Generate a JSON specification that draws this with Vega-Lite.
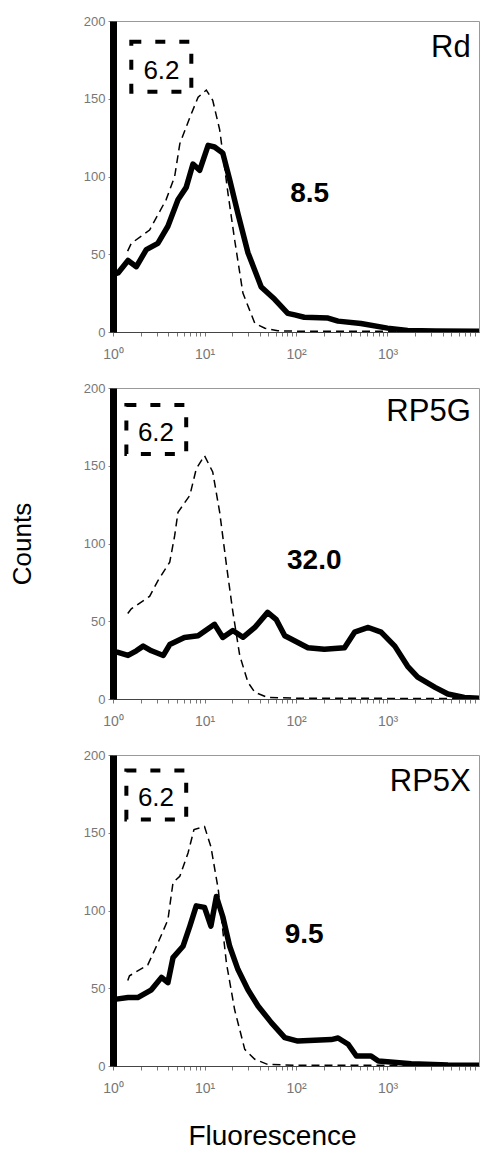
{
  "$schema": "https://vega.github.io/schema/vega-lite/v6.json",
  "padding": {"left": 8, "top": 14, "right": 0, "bottom": 0},
  "spacing": 19,
  "config": {"font": "Liberation Sans", "view": {"stroke": "#999", "strokeWidth": 1}},
  "datasets": {
    "curves": [
      {"p":"Rd","s":"ctrl","x":1.445,"y":52},{"p":"Rd","s":"ctrl","x":1.585,"y":57},{"p":"Rd","s":"ctrl","x":2.512,"y":65.6},{"p":"Rd","s":"ctrl","x":3.8,"y":85},{"p":"Rd","s":"ctrl","x":4.72,"y":100},{"p":"Rd","s":"ctrl","x":5.37,"y":121},{"p":"Rd","s":"ctrl","x":6.918,"y":138},{"p":"Rd","s":"ctrl","x":8.511,"y":151},{"p":"Rd","s":"ctrl","x":10.47,"y":155.6},{"p":"Rd","s":"ctrl","x":12.3,"y":149},{"p":"Rd","s":"ctrl","x":14.66,"y":130},{"p":"Rd","s":"ctrl","x":18.07,"y":89},{"p":"Rd","s":"ctrl","x":21.38,"y":59},{"p":"Rd","s":"ctrl","x":26.3,"y":25},{"p":"Rd","s":"ctrl","x":35.48,"y":5.6},{"p":"Rd","s":"ctrl","x":45.71,"y":2.4},{"p":"Rd","s":"ctrl","x":63.1,"y":0.8},{"p":"Rd","s":"ctrl","x":100,"y":0.5},{"p":"Rd","s":"ctrl","x":10000,"y":0.3},
      {"p":"Rd","s":"smp","x":1,"y":37},{"p":"Rd","s":"smp","x":1.135,"y":38},{"p":"Rd","s":"smp","x":1.459,"y":46},{"p":"Rd","s":"smp","x":1.8,"y":42},{"p":"Rd","s":"smp","x":2.312,"y":53},{"p":"Rd","s":"smp","x":3.09,"y":57},{"p":"Rd","s":"smp","x":3.981,"y":68},{"p":"Rd","s":"smp","x":5.129,"y":85},{"p":"Rd","s":"smp","x":6.31,"y":93},{"p":"Rd","s":"smp","x":7.482,"y":108},{"p":"Rd","s":"smp","x":8.85,"y":104},{"p":"Rd","s":"smp","x":10.96,"y":120},{"p":"Rd","s":"smp","x":12.88,"y":119},{"p":"Rd","s":"smp","x":15.85,"y":115},{"p":"Rd","s":"smp","x":18.84,"y":98},{"p":"Rd","s":"smp","x":23.23,"y":76},{"p":"Rd","s":"smp","x":29.85,"y":51},{"p":"Rd","s":"smp","x":41.69,"y":29},{"p":"Rd","s":"smp","x":58.48,"y":21},{"p":"Rd","s":"smp","x":81.28,"y":12},{"p":"Rd","s":"smp","x":96.8,"y":11},{"p":"Rd","s":"smp","x":123,"y":9.5},{"p":"Rd","s":"smp","x":223.9,"y":9},{"p":"Rd","s":"smp","x":288,"y":7},{"p":"Rd","s":"smp","x":512.9,"y":5.5},{"p":"Rd","s":"smp","x":1000,"y":2.5},{"p":"Rd","s":"smp","x":1660,"y":1},{"p":"Rd","s":"smp","x":3311,"y":0.6},{"p":"Rd","s":"smp","x":10000,"y":0.5},
      {"p":"RP5G","s":"ctrl","x":1.45,"y":55},{"p":"RP5G","s":"ctrl","x":1.585,"y":58},{"p":"RP5G","s":"ctrl","x":2.512,"y":66},{"p":"RP5G","s":"ctrl","x":3.09,"y":76},{"p":"RP5G","s":"ctrl","x":4.169,"y":88},{"p":"RP5G","s":"ctrl","x":4.72,"y":105},{"p":"RP5G","s":"ctrl","x":5.129,"y":120},{"p":"RP5G","s":"ctrl","x":6.918,"y":131},{"p":"RP5G","s":"ctrl","x":8.128,"y":148},{"p":"RP5G","s":"ctrl","x":10,"y":156.5},{"p":"RP5G","s":"ctrl","x":12.3,"y":146},{"p":"RP5G","s":"ctrl","x":14.66,"y":120},{"p":"RP5G","s":"ctrl","x":17.38,"y":86},{"p":"RP5G","s":"ctrl","x":20.42,"y":56},{"p":"RP5G","s":"ctrl","x":24.27,"y":28},{"p":"RP5G","s":"ctrl","x":29.85,"y":10.7},{"p":"RP5G","s":"ctrl","x":35.48,"y":4.3},{"p":"RP5G","s":"ctrl","x":48.98,"y":1},{"p":"RP5G","s":"ctrl","x":100,"y":0.5},{"p":"RP5G","s":"ctrl","x":10000,"y":0.3},
      {"p":"RP5G","s":"smp","x":1,"y":30},{"p":"RP5G","s":"smp","x":1.135,"y":30},{"p":"RP5G","s":"smp","x":1.459,"y":28},{"p":"RP5G","s":"smp","x":1.8,"y":31},{"p":"RP5G","s":"smp","x":2.138,"y":34},{"p":"RP5G","s":"smp","x":2.63,"y":31},{"p":"RP5G","s":"smp","x":3.548,"y":28},{"p":"RP5G","s":"smp","x":4.169,"y":35},{"p":"RP5G","s":"smp","x":6.026,"y":39.6},{"p":"RP5G","s":"smp","x":8.511,"y":40.7},{"p":"RP5G","s":"smp","x":12.88,"y":48},{"p":"RP5G","s":"smp","x":15.85,"y":39.6},{"p":"RP5G","s":"smp","x":20.42,"y":44},{"p":"RP5G","s":"smp","x":26.3,"y":39.7},{"p":"RP5G","s":"smp","x":35.48,"y":46},{"p":"RP5G","s":"smp","x":48.98,"y":55.7},{"p":"RP5G","s":"smp","x":60.95,"y":51},{"p":"RP5G","s":"smp","x":75.34,"y":40.7},{"p":"RP5G","s":"smp","x":81.28,"y":39.7},{"p":"RP5G","s":"smp","x":134.9,"y":33},{"p":"RP5G","s":"smp","x":204.2,"y":32},{"p":"RP5G","s":"smp","x":338.8,"y":33},{"p":"RP5G","s":"smp","x":436.5,"y":43},{"p":"RP5G","s":"smp","x":616.6,"y":46},{"p":"RP5G","s":"smp","x":851.1,"y":43},{"p":"RP5G","s":"smp","x":1202,"y":34},{"p":"RP5G","s":"smp","x":1660,"y":21},{"p":"RP5G","s":"smp","x":2138,"y":14},{"p":"RP5G","s":"smp","x":3311,"y":7.5},{"p":"RP5G","s":"smp","x":4571,"y":3.2},{"p":"RP5G","s":"smp","x":6918,"y":1},{"p":"RP5G","s":"smp","x":10000,"y":0.5},
      {"p":"RP5X","s":"ctrl","x":1.45,"y":55},{"p":"RP5X","s":"ctrl","x":1.514,"y":58},{"p":"RP5X","s":"ctrl","x":2.399,"y":65},{"p":"RP5X","s":"ctrl","x":3.09,"y":79},{"p":"RP5X","s":"ctrl","x":3.981,"y":94},{"p":"RP5X","s":"ctrl","x":4.529,"y":118},{"p":"RP5X","s":"ctrl","x":5.37,"y":122},{"p":"RP5X","s":"ctrl","x":6.607,"y":137},{"p":"RP5X","s":"ctrl","x":7.674,"y":152},{"p":"RP5X","s":"ctrl","x":10,"y":154},{"p":"RP5X","s":"ctrl","x":11.75,"y":141},{"p":"RP5X","s":"ctrl","x":14.13,"y":113.6},{"p":"RP5X","s":"ctrl","x":17.38,"y":66},{"p":"RP5X","s":"ctrl","x":21.38,"y":36},{"p":"RP5X","s":"ctrl","x":27.54,"y":10.7},{"p":"RP5X","s":"ctrl","x":35.48,"y":4.3},{"p":"RP5X","s":"ctrl","x":48.98,"y":1},{"p":"RP5X","s":"ctrl","x":100,"y":0.5},{"p":"RP5X","s":"ctrl","x":10000,"y":0.3},
      {"p":"RP5X","s":"smp","x":1,"y":43},{"p":"RP5X","s":"smp","x":1.086,"y":43},{"p":"RP5X","s":"smp","x":1.459,"y":44},{"p":"RP5X","s":"smp","x":1.862,"y":44},{"p":"RP5X","s":"smp","x":2.63,"y":49},{"p":"RP5X","s":"smp","x":3.388,"y":57},{"p":"RP5X","s":"smp","x":3.981,"y":53.6},{"p":"RP5X","s":"smp","x":4.529,"y":69.7},{"p":"RP5X","s":"smp","x":5.82,"y":77},{"p":"RP5X","s":"smp","x":6.918,"y":90},{"p":"RP5X","s":"smp","x":8.128,"y":103},{"p":"RP5X","s":"smp","x":10,"y":102},{"p":"RP5X","s":"smp","x":11.75,"y":90},{"p":"RP5X","s":"smp","x":13.49,"y":109},{"p":"RP5X","s":"smp","x":15.85,"y":96},{"p":"RP5X","s":"smp","x":18.84,"y":77},{"p":"RP5X","s":"smp","x":23.23,"y":62},{"p":"RP5X","s":"smp","x":29.85,"y":49},{"p":"RP5X","s":"smp","x":38.46,"y":38.6},{"p":"RP5X","s":"smp","x":53.7,"y":27.9},{"p":"RP5X","s":"smp","x":75.34,"y":18.2},{"p":"RP5X","s":"smp","x":104.7,"y":16},{"p":"RP5X","s":"smp","x":242.7,"y":17},{"p":"RP5X","s":"smp","x":288.4,"y":18},{"p":"RP5X","s":"smp","x":371.5,"y":14},{"p":"RP5X","s":"smp","x":457.1,"y":6.4},{"p":"RP5X","s":"smp","x":660.7,"y":6.4},{"p":"RP5X","s":"smp","x":794.3,"y":3.2},{"p":"RP5X","s":"smp","x":1820,"y":1.5},{"p":"RP5X","s":"smp","x":4571,"y":0.6},{"p":"RP5X","s":"smp","x":10000,"y":0.5}
    ],
    "ann": [
      {"p":"Rd","k":"box","x":1.585,"x2":7.178,"y":154.5,"y2":186.7},
      {"p":"Rd","k":"small","x":3.388,"y":163,"t":"6.2"},
      {"p":"Rd","k":"name","x":8128,"y":177,"t":"Rd"},
      {"p":"Rd","k":"num","x":141,"y":83.6,"t":"8.5"},
      {"p":"RP5G","k":"box","x":1.4,"x2":6.31,"y":157.6,"y2":189},
      {"p":"RP5G","k":"small","x":2.95,"y":166,"t":"6.2"},
      {"p":"RP5G","k":"name","x":8128,"y":179,"t":"RP5G"},
      {"p":"RP5G","k":"num","x":158.5,"y":83.6,"t":"32.0"},
      {"p":"RP5X","k":"box","x":1.4,"x2":6.31,"y":158.6,"y2":190},
      {"p":"RP5X","k":"small","x":2.95,"y":167,"t":"6.2"},
      {"p":"RP5X","k":"name","x":8128,"y":177,"t":"RP5X"},
      {"p":"RP5X","k":"num","x":123,"y":79,"t":"9.5"}
    ]
  },
  "vconcat": [
    {
      "width": 366, "height": 311,
      "layer": [
        {"data":{"name":"curves"},"transform":[{"filter":"datum.p=='Rd' && datum.s=='ctrl'"}],
         "mark":{"type":"line","color":"black","strokeWidth":1.5,"strokeDash":[8,5],"clip":true},
         "encoding":{
           "x":{"field":"x","type":"quantitative","scale":{"type":"log","domain":[1,10000],"nice":false},
                "axis":{"title":null,"values":[1,2,3,4,5,6,7,8,9,10,20,30,40,50,60,70,80,90,100,200,300,400,500,600,700,800,900,1000,2000,3000,4000,5000,6000,7000,8000,9000],
                        "labelExpr":"datum.value==1?'10⁰':datum.value==10?'10¹':datum.value==100?'10²':datum.value==1000?'10³':''",
                        "labelOverlap":false,"labelFlush":false,"tickSize":4,"tickColor":"#777","domainColor":"#444","labelColor":"#777","labelFontSize":14,"labelPadding":11,"grid":false}},
           "y":{"field":"y","type":"quantitative","scale":{"domain":[0,200],"nice":false},
                "axis":{"title":null,"values":[0,50,100,150,200],"domainWidth":7,"domainColor":"black","tickColor":"#888","tickSize":5,"labelColor":"#777","labelFontSize":13,"labelPadding":3,"grid":false,"zindex":1}}
         }},
        {"data":{"name":"curves"},"transform":[{"filter":"datum.p=='Rd' && datum.s=='smp'"}],
         "mark":{"type":"line","color":"black","strokeWidth":5.5,"strokeJoin":"round","clip":true},
         "encoding":{"x":{"field":"x","type":"quantitative"},"y":{"field":"y","type":"quantitative"}}},
        {"data":{"name":"ann"},"transform":[{"filter":"datum.p=='Rd' && datum.k=='box'"}],
         "mark":{"type":"rect","fill":"white","fillOpacity":0,"stroke":"black","strokeWidth":4,"strokeDash":[10,14]},
         "encoding":{"x":{"field":"x","type":"quantitative"},"x2":{"field":"x2"},"y":{"field":"y","type":"quantitative"},"y2":{"field":"y2"}}},
        {"data":{"name":"ann"},"transform":[{"filter":"datum.p=='Rd' && datum.k=='small'"}],
         "mark":{"type":"text","fontSize":26,"align":"center","baseline":"alphabetic","color":"black"},
         "encoding":{"x":{"field":"x","type":"quantitative"},"y":{"field":"y","type":"quantitative"},"text":{"field":"t"}}},
        {"data":{"name":"ann"},"transform":[{"filter":"datum.p=='Rd' && datum.k=='name'"}],
         "mark":{"type":"text","fontSize":31,"align":"right","baseline":"alphabetic","color":"black"},
         "encoding":{"x":{"field":"x","type":"quantitative"},"y":{"field":"y","type":"quantitative"},"text":{"field":"t"}}},
        {"data":{"name":"ann"},"transform":[{"filter":"datum.p=='Rd' && datum.k=='num'"}],
         "mark":{"type":"text","fontSize":28,"fontWeight":"bold","align":"center","baseline":"alphabetic","color":"black"},
         "encoding":{"x":{"field":"x","type":"quantitative"},"y":{"field":"y","type":"quantitative"},"text":{"field":"t"}}}
      ]
    },
    {
      "width": 366, "height": 311,
      "layer": [
        {"data":{"name":"curves"},"transform":[{"filter":"datum.p=='RP5G' && datum.s=='ctrl'"}],
         "mark":{"type":"line","color":"black","strokeWidth":1.5,"strokeDash":[8,5],"clip":true},
         "encoding":{
           "x":{"field":"x","type":"quantitative","scale":{"type":"log","domain":[1,10000],"nice":false},
                "axis":{"title":null,"values":[1,2,3,4,5,6,7,8,9,10,20,30,40,50,60,70,80,90,100,200,300,400,500,600,700,800,900,1000,2000,3000,4000,5000,6000,7000,8000,9000],
                        "labelExpr":"datum.value==1?'10⁰':datum.value==10?'10¹':datum.value==100?'10²':datum.value==1000?'10³':''",
                        "labelOverlap":false,"labelFlush":false,"tickSize":4,"tickColor":"#777","domainColor":"#444","labelColor":"#777","labelFontSize":14,"labelPadding":11,"grid":false}},
           "y":{"field":"y","type":"quantitative","scale":{"domain":[0,200],"nice":false},
                "axis":{"title":"Counts","titleFontSize":26,"titleFontWeight":"normal","titleColor":"black","titlePadding":48,"values":[0,50,100,150,200],"domainWidth":7,"domainColor":"black","tickColor":"#888","tickSize":5,"labelColor":"#777","labelFontSize":13,"labelPadding":3,"grid":false,"zindex":1}}
         }},
        {"data":{"name":"curves"},"transform":[{"filter":"datum.p=='RP5G' && datum.s=='smp'"}],
         "mark":{"type":"line","color":"black","strokeWidth":5.5,"strokeJoin":"round","clip":true},
         "encoding":{"x":{"field":"x","type":"quantitative"},"y":{"field":"y","type":"quantitative"}}},
        {"data":{"name":"ann"},"transform":[{"filter":"datum.p=='RP5G' && datum.k=='box'"}],
         "mark":{"type":"rect","fill":"white","fillOpacity":0,"stroke":"black","strokeWidth":4,"strokeDash":[10,14]},
         "encoding":{"x":{"field":"x","type":"quantitative"},"x2":{"field":"x2"},"y":{"field":"y","type":"quantitative"},"y2":{"field":"y2"}}},
        {"data":{"name":"ann"},"transform":[{"filter":"datum.p=='RP5G' && datum.k=='small'"}],
         "mark":{"type":"text","fontSize":26,"align":"center","baseline":"alphabetic","color":"black"},
         "encoding":{"x":{"field":"x","type":"quantitative"},"y":{"field":"y","type":"quantitative"},"text":{"field":"t"}}},
        {"data":{"name":"ann"},"transform":[{"filter":"datum.p=='RP5G' && datum.k=='name'"}],
         "mark":{"type":"text","fontSize":31,"align":"right","baseline":"alphabetic","color":"black"},
         "encoding":{"x":{"field":"x","type":"quantitative"},"y":{"field":"y","type":"quantitative"},"text":{"field":"t"}}},
        {"data":{"name":"ann"},"transform":[{"filter":"datum.p=='RP5G' && datum.k=='num'"}],
         "mark":{"type":"text","fontSize":28,"fontWeight":"bold","align":"center","baseline":"alphabetic","color":"black"},
         "encoding":{"x":{"field":"x","type":"quantitative"},"y":{"field":"y","type":"quantitative"},"text":{"field":"t"}}}
      ]
    },
    {
      "width": 366, "height": 311,
      "layer": [
        {"data":{"name":"curves"},"transform":[{"filter":"datum.p=='RP5X' && datum.s=='ctrl'"}],
         "mark":{"type":"line","color":"black","strokeWidth":1.5,"strokeDash":[8,5],"clip":true},
         "encoding":{
           "x":{"field":"x","type":"quantitative","scale":{"type":"log","domain":[1,10000],"nice":false},
                "axis":{"title":"Fluorescence","titleFontSize":28,"titleFontWeight":"normal","titleColor":"black","titlePadding":27,"titleX":159,"values":[1,2,3,4,5,6,7,8,9,10,20,30,40,50,60,70,80,90,100,200,300,400,500,600,700,800,900,1000,2000,3000,4000,5000,6000,7000,8000,9000],
                        "labelExpr":"datum.value==1?'10⁰':datum.value==10?'10¹':datum.value==100?'10²':datum.value==1000?'10³':''",
                        "labelOverlap":false,"labelFlush":false,"tickSize":4,"tickColor":"#777","domainColor":"#444","labelColor":"#777","labelFontSize":14,"labelPadding":11,"grid":false}},
           "y":{"field":"y","type":"quantitative","scale":{"domain":[0,200],"nice":false},
                "axis":{"title":null,"values":[0,50,100,150,200],"domainWidth":7,"domainColor":"black","tickColor":"#888","tickSize":5,"labelColor":"#777","labelFontSize":13,"labelPadding":3,"grid":false,"zindex":1}}
         }},
        {"data":{"name":"curves"},"transform":[{"filter":"datum.p=='RP5X' && datum.s=='smp'"}],
         "mark":{"type":"line","color":"black","strokeWidth":5.5,"strokeJoin":"round","clip":true},
         "encoding":{"x":{"field":"x","type":"quantitative"},"y":{"field":"y","type":"quantitative"}}},
        {"data":{"name":"ann"},"transform":[{"filter":"datum.p=='RP5X' && datum.k=='box'"}],
         "mark":{"type":"rect","fill":"white","fillOpacity":0,"stroke":"black","strokeWidth":4,"strokeDash":[10,14]},
         "encoding":{"x":{"field":"x","type":"quantitative"},"x2":{"field":"x2"},"y":{"field":"y","type":"quantitative"},"y2":{"field":"y2"}}},
        {"data":{"name":"ann"},"transform":[{"filter":"datum.p=='RP5X' && datum.k=='small'"}],
         "mark":{"type":"text","fontSize":26,"align":"center","baseline":"alphabetic","color":"black"},
         "encoding":{"x":{"field":"x","type":"quantitative"},"y":{"field":"y","type":"quantitative"},"text":{"field":"t"}}},
        {"data":{"name":"ann"},"transform":[{"filter":"datum.p=='RP5X' && datum.k=='name'"}],
         "mark":{"type":"text","fontSize":31,"align":"right","baseline":"alphabetic","color":"black"},
         "encoding":{"x":{"field":"x","type":"quantitative"},"y":{"field":"y","type":"quantitative"},"text":{"field":"t"}}},
        {"data":{"name":"ann"},"transform":[{"filter":"datum.p=='RP5X' && datum.k=='num'"}],
         "mark":{"type":"text","fontSize":28,"fontWeight":"bold","align":"center","baseline":"alphabetic","color":"black"},
         "encoding":{"x":{"field":"x","type":"quantitative"},"y":{"field":"y","type":"quantitative"},"text":{"field":"t"}}}
      ]
    }
  ]
}
